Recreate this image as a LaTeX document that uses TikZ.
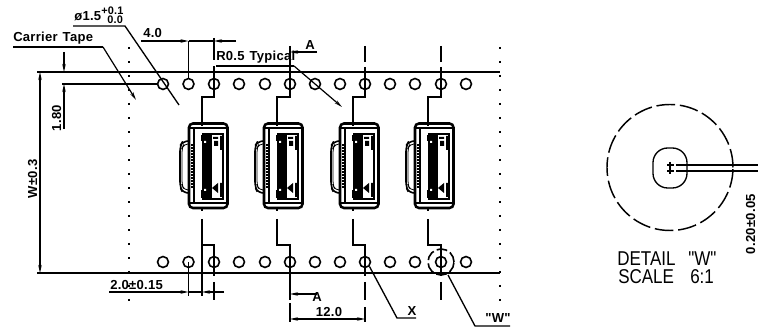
\documentclass[tikz,border=0pt]{standalone}
\usepackage{fontspec}
\setmainfont{Liberation Sans}
\newfontfamily\dimfont[LetterSpace=2,WordSpace=1.3]{Liberation Sans Bold}
\newfontfamily\bigfont[FakeStretch=0.85,WordSpace=1.8]{Liberation Sans}
\usetikzlibrary{arrows.meta}
\tikzset{
 thick line/.style={line width=1.15pt,black},
 thin line/.style={line width=1pt,black},
 dim/.style={line width=0.9pt,black,-{Stealth[length=6pt,width=2.6pt]}},
 hole/.style={circle,draw,line width=1.2pt,minimum size=8.2pt,inner sep=0pt},
 lbl/.style={inner sep=0pt,font=\fontsize{9.8pt}{11pt}\dimfont},
 small lbl/.style={inner sep=0pt,font=\fontsize{8.2pt}{9pt}\dimfont},
 big lbl/.style={inner sep=0pt,anchor=base west,font=\fontsize{15pt}{16pt}\bigfont},
 dotline/.style={line width=1.2pt,dash pattern=on 1.5pt off 9pt},
}
\newcommand{\connector}[1]{%
\begin{scope}[shift={(#1,0)}]
 \draw[line width=1.9pt,rounded corners=3pt] (-13,123.5) rectangle (25.5,208);
 \draw[line width=0.8pt] (-8,128) -- (-8,203);
 \draw[line width=0.9pt] (-13,128) -- (24,128) (-13,203) -- (24,203);
 \draw[line width=1.2pt,rounded corners=4pt] (-13,141) -- (-19,141) -- (-22,146) -- (-22,187) -- (-19,193) -- (-13,193);
 \draw[line width=0.6pt,rounded corners=3pt] (-13,144) -- (-18,144) -- (-20,148) -- (-20,185) -- (-18,190) -- (-13,190);
 % dark body
 \fill (0,134) rectangle (10,199);
 \draw[line width=1.3pt] (0,134) -- (21,134) -- (21,199) -- (0,199);
 \fill[white] (2,141) rectangle (4,143) (2,189) rectangle (4,191);
 \fill (-1,135) rectangle (1,141);
 \fill (-1,190) rectangle (1,198);
 \fill (11,137) rectangle (16,139) (12,141) rectangle (16,146);
 \fill (10,188) -- (16,183) -- (16,193) -- cycle;
 \fill (18,136) rectangle (20,150) (18,183) rectangle (20,197);
 \foreach \yy in {144,147,...,187} \fill (-11.5,\yy) rectangle (-9.5,\yy+1.6);
\end{scope}}
\begin{document}
\begin{tikzpicture}[x=0.75pt,y=-0.75pt]
\useasboundingbox (0,0) rectangle (758,327);
\fill[white] (0,0) rectangle (758,327);
% tape
\draw[thick line] (37,72) -- (500,72);
\draw[thick line] (37,273) -- (500,273);
\draw[dotline] (129,47) -- (129,303);
\draw[dotline] (500,47) -- (500,303);
% holes
\foreach \x/\n in {163/a,188.5/b,214/c,239/d,265/e,290/f,315/g,340/h,365/i,390/j,415/k,441/l,466/m}{
 \node[hole] (t\n) at (\x,84) {};
 \node[hole] (b\n) at (\x,262) {};
}
% connectors
\connector{202}\connector{277}\connector{353}\connector{428}
% centre lines and jogs
\foreach \h/\c in {c/202,f/277,i/353,l/428}{
 \coordinate (ja\h) at (\c,124);
 \coordinate (jb\h) at (\c,219);
 \draw[thick line] (t\h.center) -- ++(0,13) -| (ja\h);
 \draw[thick line] (ja\h) -- ++(0,2);
 \draw[thick line] (jb\h) -- ++(0,26) -| (b\h.center);
 \draw[thick line] (b\h.center) -- ++(0,14);
 \draw[thick line] (\c,207) -- (\c,211);
}
% top centre marks
\draw[thick line] (290,46) -- (tf.center);
\draw[thick line] (365,46) -- (365,62) (365,67) -- (ti.center);
\draw[thick line] (441,46) -- (441,62) (441,67) -- (tl.center);
\draw[thick line] (214,38) -- (214,60) (214,66) -- (tc.center);
% bottom centre marks
\draw[thick line] (290,276) -- (290,300) (290,303) -- (290,322);
\draw[thick line] (365,282) -- (365,300) (365,307) -- (365,322);
\draw[thick line] (441,282) -- (441,300);
% dia leader
\coordinate (dia1) at (73,26); \coordinate (dia2) at (125,26); \coordinate (dia3) at (179,105);
\draw[thin line] (dia1) -- (dia2) -- (dia3);
\node[lbl,anchor=base west] (dia) at (74,21) {ø1.5};
\node[small lbl,anchor=base west] (pl) at (101,15) {+0.1};
\node[small lbl,anchor=base west] (mi) at (107,24) {0.0};
% carrier tape
\node[lbl,anchor=base west] (ct) at (13,42) {Carrier Tape};
\coordinate (cts) at (13,47); \coordinate (ctm) at (103,47); \coordinate (cte) at (136,100);
\draw[thin line] (cts) -- (ctm);
\draw[dim] (ctm) -- (cte);
% 4.0
\node[lbl,anchor=base west] (d4) at (143,38) {4.0};
\coordinate (d4a) at (141,41); \coordinate (d4b) at (188.5,41);
\coordinate (d4c) at (236,41); \coordinate (d4d) at (214,41);
\draw[thick line] (tb.north) -- (d4b);
\draw[dim] (d4a) -- (d4b);
\draw[dim] (d4c) -- (d4d);
\draw[thin line] (d4b) -- (d4d);
% R0.5
\node[lbl,anchor=base west] (r) at (216,61) {R0.5 Typical};
\coordinate (rs) at (216,66); \coordinate (rm) at (294,66); \coordinate (re) at (342,107);
\draw[thin line] (rs) -- (rm);
\draw[dim] (rm) -- (re);
% A top
\node[lbl,anchor=base] (atop) at (310,50) {A};
\coordinate (a1) at (317,52); \coordinate (a2) at (290,52);
\draw[dim] (a1) -- (a2);
% 1.80
\coordinate (x1) at (64,52); \coordinate (x2) at (64,72);
\coordinate (x3) at (64,129); \coordinate (x4) at (64,84);
\coordinate (x5) at (62,84);
\draw[dim] (x1) -- (x2);
\draw[dim] (x3) -- (x4);
\draw[thin line] (x5) -- (ta.west);
\node[lbl,rotate=90,anchor=base] (n180) at (61,118) {1.80};
% W
\coordinate (w1) at (40,170); \coordinate (w2) at (40,72); \coordinate (w3) at (40,273);
\draw[dim] (w1) -- (w2);
\draw[dim] (w1) -- (w3);
\node[lbl,rotate=90,anchor=base] (nw) at (37,179) {W±0.3};
% 2.0
\node[lbl,anchor=base west] (d2) at (110,290) {2.0±0.15};
\coordinate (d2a) at (109,292); \coordinate (d2b) at (188.5,292);
\coordinate (d2m) at (202,292);
\coordinate (d2c) at (224,292);
\draw[dim] (d2a) -- (d2b);
\draw[thin line] (d2b) -- (d2m);
\draw[dim] (d2c) -- (d2m);
\draw[thick line] (bb.center) -- (188.5,296);
\draw[thick line] (202,245) -- (202,296);
\draw[thick line] (214,282) -- (214,300);
% A bottom
\node[lbl,anchor=base] (abot) at (317,302) {A};
\coordinate (a3) at (317,294); \coordinate (a4) at (290,294);
\draw[dim] (a3) -- (a4);
% 12.0
\node[lbl,anchor=base] (d12) at (329,317) {12.0};
\coordinate (d12a) at (328,319); \coordinate (d12b) at (290,319); \coordinate (d12c) at (365,319);
\draw[dim] (d12a) -- (d12b);
\draw[dim] (d12a) -- (d12c);
% X
\coordinate (xm) at (397,318); \coordinate (xe) at (416,318);
\draw[thin line] (bi.south east) -- (xm) -- (xe);
\node[lbl,anchor=base] (nx) at (412,316) {X};
% W callout
\node[circle,draw,line width=1.2pt,dash pattern=on 8pt off 2.5pt,minimum size=19.5pt,inner sep=0pt] (wc) at (441,262) {};
\coordinate (wl1) at (448,275); \coordinate (wl2) at (475,326); \coordinate (wl3) at (510,326);
\draw[thin line] (wl1) -- (wl2) -- (wl3);
\node[lbl,anchor=base] (nww) at (498,323) {"W"};
% detail
\node[circle,draw,line width=1.1pt,dash pattern=on 14pt off 3.6pt,minimum size=94.5pt,inner sep=0pt] (det) at (670,167.5) {};
\draw[line width=1pt,rounded corners=11pt] (653,148) rectangle (687,188);
\coordinate (l1) at (676,165); \coordinate (l2) at (676,171);
\coordinate (r1) at (758,165); \coordinate (r2) at (758,171);
\draw[thick line] (l1) -- (r1);
\draw[thick line] (l2) -- (r2);
\draw[thick line] (670,162) -- (670,174);
\draw[thick line] (667,165) -- (674,165) (667,171) -- (674,171);
\node[big lbl] (dt) at (617,266) {DETAIL};
\node[big lbl] (dq) at (688,266) {"W"};
\node[big lbl] (sc) at (618,284) {SCALE};
\node[big lbl] (sr) at (690,284) {6:1};
\node[lbl,rotate=90,anchor=base] (n02) at (755,224) {0.20±0.05};
\end{tikzpicture}
\end{document}
